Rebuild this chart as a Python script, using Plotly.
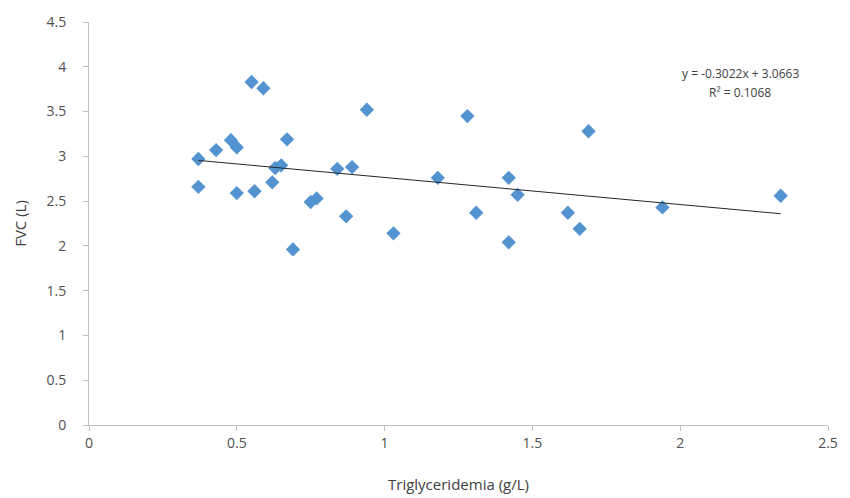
import plotly.graph_objects as go

# Data
trig = [0.37, 0.37, 0.43, 0.48, 0.50, 0.50, 0.55, 0.59, 0.56, 0.62, 0.63, 0.65,
        0.67, 0.69, 0.75, 0.77, 0.84, 0.87, 0.89, 0.94, 1.03, 1.18, 1.28, 1.31,
        1.42, 1.42, 1.45, 1.62, 1.66, 1.69, 1.94, 2.34]
fvc = [2.97, 2.66, 3.07, 3.18, 3.10, 2.59, 3.83, 3.76, 2.61, 2.71, 2.87, 2.90,
       3.19, 1.96, 2.49, 2.53, 2.86, 2.33, 2.88, 3.52, 2.14, 2.76, 3.45, 2.37,
       2.76, 2.04, 2.57, 2.37, 2.19, 3.28, 2.43, 2.56]

slope = -0.3022
intercept = 3.0663
r2 = 0.1068

x_ticks = [0, 0.5, 1, 1.5, 2, 2.5]
y_ticks = [0, 0.5, 1, 1.5, 2, 2.5, 3, 3.5, 4, 4.5]

xmin, xmax = min(trig), max(trig)
trend_x = [xmin, xmax]
trend_y = [slope * v + intercept for v in trend_x]

font_family = "Open Sans, Liberation Sans, sans-serif"
grey_txt = "#505050"
axis_col = "#c0c0c0"

fig = go.Figure()
fig.add_trace(go.Scatter(
    x=trig, y=fvc, mode="markers",
    marker=dict(symbol="diamond", size=11, color="#5393D0",
                line=dict(width=0)),
    showlegend=False,
))
fig.add_trace(go.Scatter(
    x=trend_x, y=trend_y, mode="lines",
    line=dict(color="#262626", width=1),
    showlegend=False,
))

eq_font = dict(family=font_family, size=12, color="#404040")
fig.add_annotation(
    xref="paper", yref="paper", x=0.881, y=0.873,
    xanchor="center", yanchor="middle",
    text=f"y = {slope:.4f}x + {intercept:.4f}",
    showarrow=False, font=eq_font,
)
fig.add_annotation(
    xref="paper", yref="paper", x=0.881, y=0.824,
    xanchor="center", yanchor="middle",
    text=f"R² = {r2:.4f}",
    showarrow=False, font=eq_font,
)

fig.update_layout(
    width=850, height=498,
    margin=dict(l=81, r=30, t=14, b=81, autoexpand=False),
    paper_bgcolor="white", plot_bgcolor="white",
    font=dict(family=font_family, size=12, color=grey_txt),
    xaxis=dict(
        range=[0, 2.5], tickvals=x_ticks, ticktext=[f"{v:g}" for v in x_ticks],
        showgrid=False, zeroline=False, showline=True, linecolor=axis_col,
        ticks="outside", ticklen=5, tickcolor=axis_col, tickfont=dict(size=14),
        automargin=False,
        title=dict(text="Triglyceridemia (g/L)", font=dict(size=15, color="#404040"),
                   standoff=28),
    ),
    yaxis=dict(
        range=[0, 4.5], tickvals=y_ticks, ticktext=[f"{v:g}" for v in y_ticks],
        showgrid=False, zeroline=False, showline=True, linecolor=axis_col,
        ticks="outside", ticklen=5, tickcolor=axis_col, tickfont=dict(size=14),
        ticklabelstandoff=14,
        automargin=False,
        title=dict(text="FVC (L)", font=dict(size=15, color="#404040"),
                   standoff=16),
    ),
)

fig.write_html("out.html")
